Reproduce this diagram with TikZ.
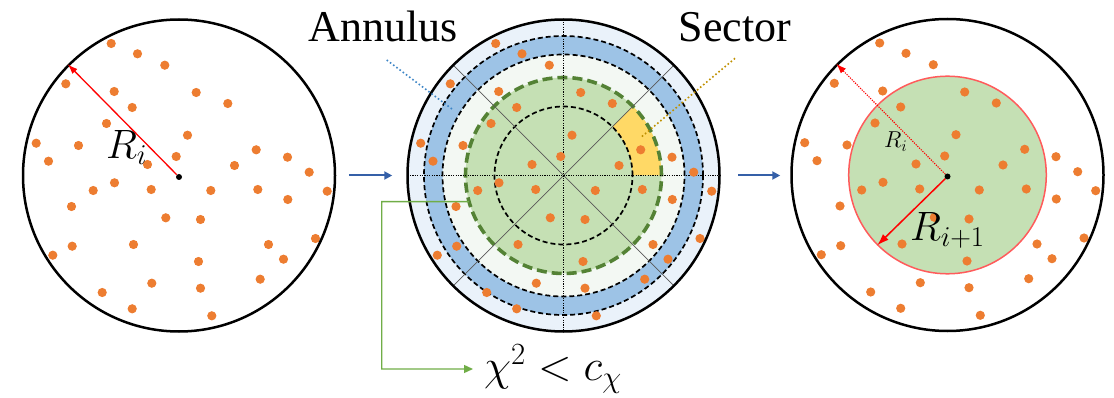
\RequirePackage{fix-cm}
\documentclass[tikz,border=0pt]{standalone}
\usepackage{fontspec}
\newfontfamily\labelfont{Liberation Serif}
\usetikzlibrary{arrows.meta,calc}
\definecolor{dotor}{HTML}{ED7D31}
\definecolor{outerblue}{HTML}{EAF2FA}
\definecolor{annblue}{HTML}{9DC3E6}
\definecolor{ringwhite}{HTML}{F3F8F3}
\definecolor{lgreen}{HTML}{C5E0B4}
\definecolor{dgreen}{HTML}{548235}
\definecolor{secyellow}{HTML}{FFD966}
\definecolor{conngreen}{HTML}{70AD47}
\definecolor{flowblue}{HTML}{3560A8}
\definecolor{leadblue}{HTML}{3D85C6}
\definecolor{leadgold}{HTML}{BF9000}
\definecolor{pinkred}{HTML}{FF5B5B}
\tikzset{
  bigcircle/.style={circle,draw=black,line width=2.5pt,minimum size=312pt,inner sep=0pt},
  cdot/.style={circle,fill=black,minimum size=6pt,inner sep=0pt},
  ordot/.style={fill=dotor},
  blkdash/.style={draw=black,line width=1.7pt,dash pattern=on 5pt off 3pt},
  greendash/.style={draw=dgreen,line width=3.6pt,dash pattern=on 10pt off 5pt},
  diag/.style={draw=black!65,line width=0.7pt},
  axisline/.style={draw=black,line width=0.8pt,dash pattern=on 1.2pt off 1.2pt},
  flow/.style={draw=flowblue,line width=2pt,-{Triangle[length=8pt,width=8pt]}},
  leader/.style={line width=1.6pt,dash pattern=on 1.6pt off 2.4pt},
  conn/.style={draw=conngreen,line width=1.4pt,-{Triangle[length=9pt,width=8pt]}},
  bigtext/.style={font=\labelfont\fontsize{44}{52}\selectfont},
  mathbig/.style={font=\fontsize{41}{48}\selectfont,inner sep=0pt},
}
\begin{document}
\begin{tikzpicture}[x=1pt,y=1pt]
\useasboundingbox (0,0) rectangle (1114,-398);
\coordinate (L) at (179,-175.5);
\coordinate (M) at (563.5,-175.5);
\coordinate (R) at (947.5,-175);

% ---- middle circle layers
\fill[outerblue] (M) circle (156pt);
\fill[annblue] (M) circle (139.5pt);
\fill[ringwhite] (M) circle (121pt);
\fill[lgreen] (M) circle (98pt);
\fill[secyellow] ($(M)+(0:69pt)$) -- ($(M)+(0:98pt)$) arc[start angle=0,end angle=45,radius=98pt]
   -- ($(M)+(45:69pt)$) arc[start angle=45,end angle=0,radius=69pt] -- cycle;
\draw[blkdash] (M) circle (139.5pt) (M) circle (121pt) (M) circle (69pt);
\draw[greendash] (M) circle (98pt);
\draw[diag] ($(M)+(45:156pt)$) -- ($(M)+(225:156pt)$);
\draw[diag] ($(M)+(135:156pt)$) -- ($(M)+(315:156pt)$);
\draw[axisline] ($(M)+(180:156pt)$) -- ($(M)+(0:156pt)$);
\draw[axisline] ($(M)+(90:156pt)$) -- ($(M)+(270:156pt)$);

% ---- right inner green disk
\node[circle,fill=lgreen,draw=pinkred,line width=1.5pt,minimum size=197.6pt,inner sep=0pt] (Rg) at (R) {};

% ---- orange points (same pattern in each circle)
\foreach \c in {L,M,R}{
  \foreach \dx/\dy in {-67.8/132.0,-41.5/121.7,-14.2/110.3,-113.2/91.7,-64.8/84.0,17.2/83.0,
    48.8/72.0,-46.8/68.0,-72.5/52.0,8.5/40.3,-142.8/32.3,-100.5/30.0,-130.5/14.3,-2.8/19.0,
    -31.5/11.0,77.2/25.7,108.5/18.3,55.5/10.0,130.2/3.3,-64.5/-7.3,-85.8/-15.0,-27.8/-14.0,
    31.8/-15.0,78.8/-14.0,108.8/-24.0,148.2/-15.7,-107.5/-31.0,-13.2/-42.3,21.5/-44.0,
    136.5/-63.0,-106.8/-70.7,-45.5/-69.0,89.5/-69.0,-126.2/-79.7,104.5/-83.7,19.5/-86.0,
    -27.2/-107.7,21.5/-112.7,81.2/-103.7,-76.8/-117.0,-46.8/-133.3,32.8/-140.3}{
    \fill[ordot] (\c) ++(\dx pt,\dy pt) circle (4.6pt);
  }
}

% ---- outer circles
\node[bigcircle] (Lc) at (L) {};
\node[bigcircle] (Mc) at (M) {};
\node[bigcircle] (Rc) at (R) {};

% ---- centre points
\node[cdot] (Lo) at ($(L)+(0,-1.5)$) {};
\node[cdot] (Ro) at ($(R)+(0,-1.5)$) {};

% ---- radius arrows
\draw[red,line width=1.3pt,-{Latex[length=10pt,width=7pt]}] (Lo) -- (Lc.135);
\node[mathbig,anchor=base west] (Rlab) at (106,-158.3) {$R_i$};
\draw[red,line width=1.1pt,dash pattern=on 1.2pt off 1.2pt,-{Latex[length=10pt,width=7pt]}] (Ro) -- (Rc.135);
\draw[red,line width=1.5pt,-{Latex[length=12pt,width=8pt]}] (Ro) -- (Rg.225);
\node[font=\fontsize{23}{28}\selectfont,inner sep=0pt,anchor=base west] (Rsmall) at (884,-148) {$R_i$};
\node[mathbig,anchor=base west] (Rnext) at (910,-240.5) {$R_{i+1}$};

% ---- flow arrows
\draw[flow,shorten <=12.5pt,shorten >=14pt] (Lc.east) -- (Mc.west);
\draw[flow,shorten <=17.5pt,shorten >=10pt] (Mc.east) -- (Rc.west |- Mc.east);

% ---- labels with leaders
\node[bigtext,anchor=base] (ann) at (383.5,-41.7) {Annulus};
\node[bigtext,anchor=base] (sec) at (735,-41.7) {Sector};
\coordinate (a1) at (386.7,-60);
\coordinate (a2) at (453.3,-110);
\coordinate (s1) at (735,-58.3);
\coordinate (s2) at (641.7,-136.7);
\draw[leader,draw=leadblue] (a1) -- (a2);
\draw[leader,draw=leadgold] (s1) -- (s2);

% ---- chi-square condition
\node[font=\fontsize{44}{50}\selectfont,inner sep=0pt,anchor=west] (chi) at (484,-369) {$\chi^2 < c_\chi$};
\coordinate (gs) at ($(M)+(195.5:98pt)$);
\coordinate (gc) at (381.7,-201.7);
\draw[conn] (gs) -- (gc) |- ([xshift=-11pt]chi.west);
\end{tikzpicture}
\end{document}
